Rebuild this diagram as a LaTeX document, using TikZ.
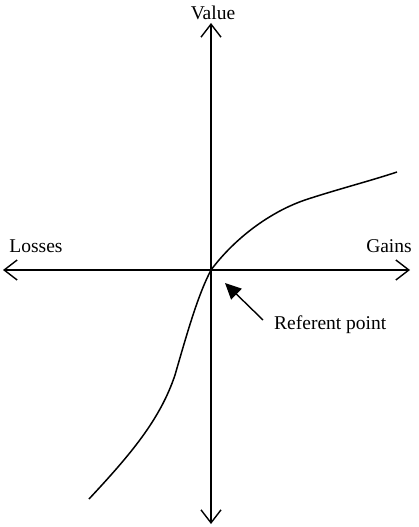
\documentclass[tikz,border=0pt]{standalone}
\usepackage{fontspec}
\setmainfont{Liberation Serif}
\usetikzlibrary{arrows.meta}
\begin{document}
\begin{tikzpicture}[x=1pt,y=-1pt,
  axis/.style={line width=1.4pt,-{Straight Barb[length=13pt,width=20pt,line width=1.4pt]}},
  lbl/.style={font=\fontsize{19.5pt}{22pt}\selectfont,inner sep=0pt},
  curve/.style={line width=1.5pt}]
\useasboundingbox (0,0) rectangle (418,527);
\coordinate (O) at (211,270);
\coordinate (top) at (211,23);
\coordinate (bot) at (211,524);
\coordinate (left) at (3,270);
\coordinate (right) at (410,270);
\coordinate (tip) at (225,283);
\draw[axis] (O) -- (top);
\draw[axis] (O) -- (bot);
\draw[axis] (O) -- (left);
\draw[axis] (O) -- (right);
\node[lbl] (value) at (213,13) {Value};
\node[lbl] (losses) at (36,246) {Losses};
\node[lbl] (gains) at (389,246) {Gains};
\node[lbl,anchor=west] (ref) at (274,325) {Referent point};
\coordinate (tail) at (263,320);
\draw[line width=1.4pt,-{Triangle[length=16pt,width=15pt]}] (tail) -- (tip);
\coordinate (c0) at (89,499);
\coordinate (c1) at (175,375);
\coordinate (c2) at (305,200);
\coordinate (c3) at (397,172);
\draw[curve] (c0) .. controls (130,455) and (160,420) .. (c1)
  .. controls (188,330) and (198,295) .. (O)
  .. controls (235,238) and (270,212) .. (c2)
  .. controls (335,190) and (370,181) .. (c3);
\end{tikzpicture}
\end{document}
